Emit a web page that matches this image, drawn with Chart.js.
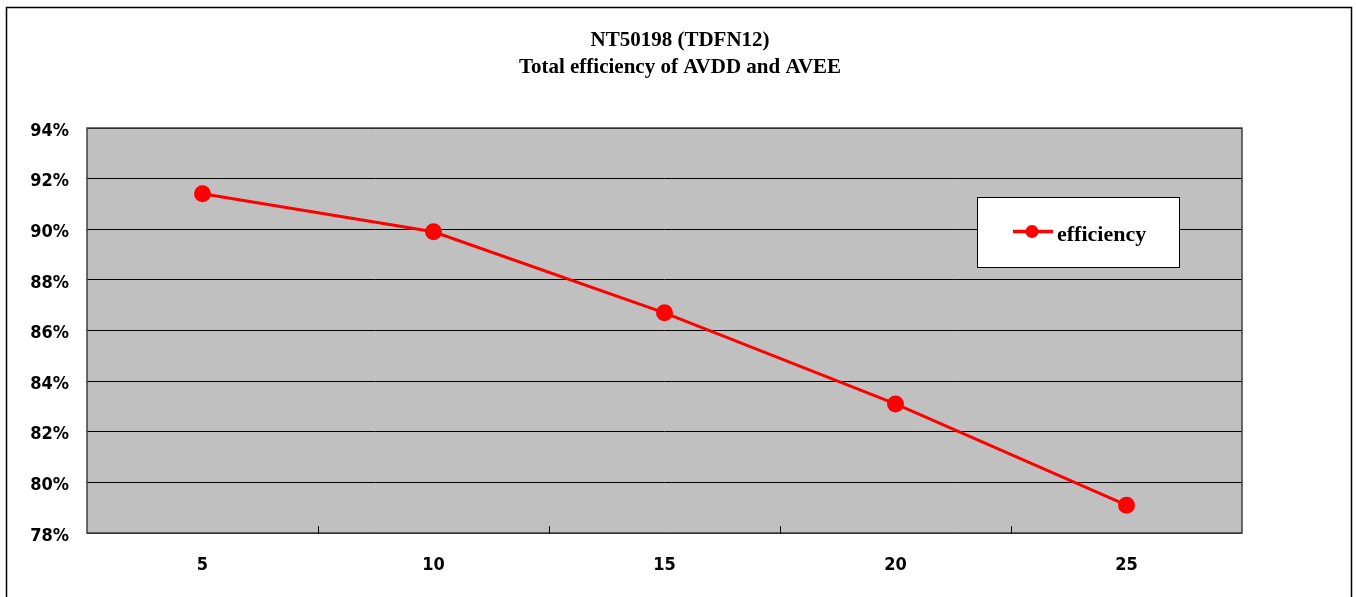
<!DOCTYPE html>
<html>
<head>
<meta charset="utf-8">
<script src="https://cdn.jsdelivr.net/npm/chart.js@4/dist/chart.umd.min.js"></script>
<style>
  html, body { margin: 0; padding: 0; background: #fff; }
  #wrap { width: 1356px; height: 597px; }
</style>
</head>
<body>
<div id="wrap"><canvas id="myChart" width="1356" height="597"></canvas></div>
<script>
// donnees
const titleLines = ['NT50198 (TDFN12)', 'Total efficiency of AVDD and AVEE'];
const categories = ['5', '10', '15', '20', '25'];
const efficiency = [91.4, 89.9, 86.7, 83.1, 79.1];
const yTicks = [78, 80, 82, 84, 86, 88, 90, 92, 94];
const seriesName = 'efficiency';

const serifFont = "'Liberation Serif', 'DejaVu Serif', serif";
const tickFont = "'DejaVu Sans Condensed', 'Liberation Sans', sans-serif";

//Plugin pour le cadre, le fond gris, le titre et la legende
const decoPlugin = {
    id: 'deco',
    beforeDraw(chart) {
        const ctx = chart.ctx;
        const a = chart.chartArea;
        ctx.save();
        ctx.fillStyle = '#ffffff';
        ctx.fillRect(0, 0, chart.width, chart.height);
        // cadre exterieur
        ctx.strokeStyle = '#000000';
        ctx.lineWidth = 1.5;
        ctx.strokeRect(6.5, 7.5, 1345, 620);
        // fond de la zone de trace
        ctx.fillStyle = '#c0c0c0';
        ctx.fillRect(a.left, a.top, a.right - a.left, a.bottom - a.top);
        // titre
        ctx.fillStyle = '#000000';
        ctx.font = 'bold 21px ' + serifFont;
        ctx.textAlign = 'center';
        ctx.textBaseline = 'middle';
        ctx.fillText(titleLines[0], 680, 41);
        ctx.fillText(titleLines[1], 680, 68);
        ctx.restore();
    },
    afterDatasetsDraw(chart) {
        const ctx = chart.ctx;
        const a = chart.chartArea;
        ctx.save();
        // bordure de la zone
        ctx.strokeStyle = '#404040';
        ctx.lineWidth = 1.5;
        ctx.strokeRect(a.left, a.top, a.right - a.left, a.bottom - a.top);
        // petits traits de graduation entre categories
        ctx.strokeStyle = '#000000';
        ctx.lineWidth = 1;
        const band = (a.right - a.left) / categories.length;
        for (let i = 1; i < categories.length; i++) {
            const px = Math.round(a.left + band * i) + 0.5;
            ctx.beginPath();
            ctx.moveTo(px, a.bottom);
            ctx.lineTo(px, a.bottom - 7);
            ctx.stroke();
        }
        // legende
        const ds = chart.data.datasets[0];
        ctx.fillStyle = '#ffffff';
        ctx.fillRect(977, 197, 202, 70);
        ctx.strokeStyle = '#000000';
        ctx.lineWidth = 1;
        ctx.strokeRect(977.5, 197.5, 202, 70);
        ctx.strokeStyle = ds.borderColor;
        ctx.lineWidth = 3.5;
        ctx.beginPath();
        ctx.moveTo(1013, 231.5);
        ctx.lineTo(1053, 231.5);
        ctx.stroke();
        ctx.fillStyle = ds.pointBackgroundColor;
        ctx.beginPath();
        ctx.arc(1032, 231.5, 6.5, 0, Math.PI * 2);
        ctx.fill();
        ctx.fillStyle = '#000000';
        ctx.font = 'bold 22px ' + serifFont;
        ctx.textAlign = 'left';
        ctx.textBaseline = 'middle';
        ctx.fillText(ds.label, 1057, 235);
        ctx.restore();
    }
};

const data = {
    labels: categories,
    datasets: [{
        label: seriesName,
        data: efficiency,
        borderColor: '#ff0000',
        backgroundColor: '#ff0000',
        pointBackgroundColor: '#ff0000',
        pointBorderColor: '#ff0000',
        borderWidth: 3,
        pointRadius: 7,
        pointHoverRadius: 7,
        tension: 0
    }]
};

const config = {
    type: 'line',
    data: data,
    plugins: [decoPlugin],
    options: {
        responsive: false,
        animation: false,
        layout: { padding: { left: 0, right: 114, top: 128, bottom: 0 } },
        plugins: {
            legend: { display: false },
            title: { display: false },
            tooltip: { enabled: false }
        },
        scales: {
            x: {
                type: 'category',
                offset: true,
                grid: { display: false, drawTicks: false },
                border: { display: false },
                ticks: {
                    color: '#000000',
                    padding: 22,
                    font: { family: tickFont, size: 18, weight: 'bold' }
                },
                afterFit(scale) { scale.height = 64; }
            },
            y: {
                min: 78,
                max: 94,
                afterBuildTicks(scale) {
                    scale.ticks = yTicks.map(v => ({ value: v }));
                },
                grid: { color: '#000000', lineWidth: 1, drawTicks: false },
                border: { display: false },
                ticks: {
                    color: '#000000',
                    padding: 18,
                    labelOffset: 3,
                    font: { family: tickFont, size: 18, weight: 'bold' },
                    callback: v => v + '%'
                },
                afterFit(scale) { scale.width = 87; }
            }
        }
    }
};

const myChart = new Chart(document.getElementById('myChart'), config);
</script>
</body>
</html>
